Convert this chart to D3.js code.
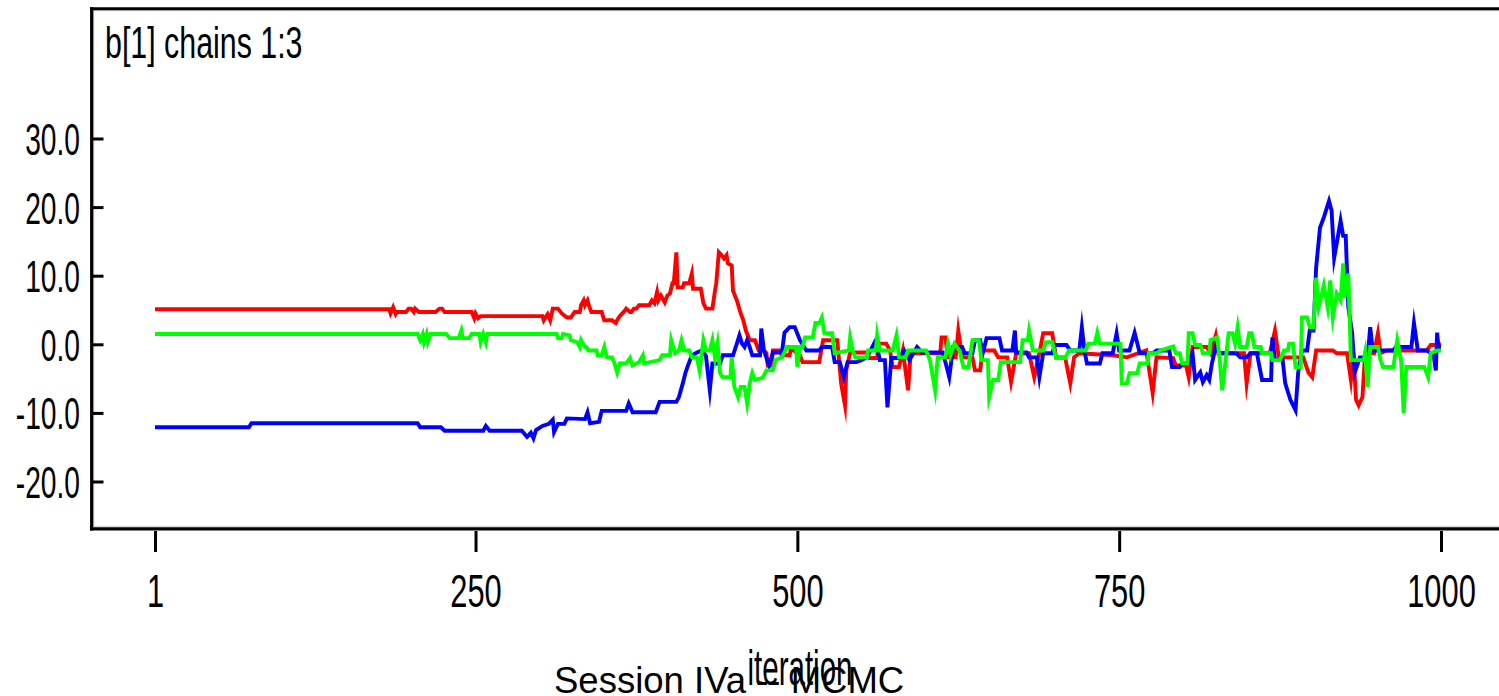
<!DOCTYPE html>
<html><head><meta charset="utf-8">
<script src="https://cdn.jsdelivr.net/npm/d3@7"></script>
<style>
html,body{margin:0;padding:0;background:#fff;}
svg{display:block;}
text{font-family:"Liberation Sans",Arial,sans-serif;fill:#000;}
</style></head>
<body>
<svg id="chart" width="1499" height="696"></svg>
<script>
// ---- data ----
const title = "b[1] chains 1:3";
const xLabel = "iteration";
const caption = "Session IVa -- MCMC";
const xTicks = [1, 250, 500, 750, 1000];
const xTickLabels = ["1", "250", "500", "750", "1000"];
const yTicks = [-20, -10, 0, 10, 20, 30];
const yTickLabels = ["-20.0", "-10.0", "0.0", "10.0", "20.0", "30.0"];
const chainColors = ["#ff0000", "#0000ff", "#00ff00"];

// chain 1 (red): [iteration, value]
const chain1 = [[1,5.1],[183,5.1],[184,4.5],[186,5.4],[188,4.4],[189,4.7],[196,4.7],[198,5.2],[200,5.2],[202,4.7],[203,5.2],[206,4.7],[219,4.7],[222,5.2],[224,5.2],[226,4.7],[247,4.7],[249,3.8],[250,4.5],[252,3.8],[254,4.1],[302,4.1],[303,3.5],[306,4.4],[308,3.5],[310,5.2],[314,5.2],[317,4.5],[321,3.9],[324,3.9],[327,4.7],[331,4.7],[332,5.7],[334,6.4],[335,5.7],[337,6.4],[338,5.7],[340,4.7],[348,4.7],[350,3.5],[356,3.5],[359,3.1],[360,3.5],[362,4.1],[366,4.9],[367,5.2],[370,4.7],[371,4.7],[373,5.2],[375,5.2],[377,5.7],[385,5.7],[387,6.4],[389,6.0],[391,7.6],[392,6.4],[394,7.1],[397,6.1],[399,7.1],[401,7.4],[403,8.9],[404,8.9],[406,13.4],[407,8.3],[411,8.3],[412,8.9],[416,8.9],[418,10.3],[419,8.1],[425,8.1],[427,6.0],[429,5.2],[434,5.2],[436,7.8],[437,8.9],[439,13.4],[441,13.0],[443,12.5],[445,13.0],[446,11.8],[449,11.5],[450,7.8],[453,6.4],[456,4.5],[458,3.5],[460,2.0],[463,0.6],[467,0.6],[470,-0.9],[474,-0.9],[476,-1.3],[477,-3.1],[480,-3.1],[481,-0.9],[486,-0.9],[488,-1.6],[494,-1.6],[495,-0.6],[502,-1.6],[504,-2.6],[517,-2.6],[520,0.6],[531,0.6],[534,-5.7],[537,-8.9],[538,-3.8],[541,-1.2],[554,-1.2],[556,-2.0],[562,-2.0],[563,0.1],[569,0.1],[572,-0.9],[574,-3.3],[579,-3.3],[582,-0.9],[586,-6.7],[588,-1.3],[611,-1.3],[612,1.0],[615,1.0],[617,-1.9],[623,-1.9],[625,2.0],[628,-1.9],[636,-1.9],[638,-3.8],[642,-3.8],[644,-0.9],[653,-0.9],[656,-1.9],[663,-1.9],[666,-5.5],[670,-1.3],[680,-1.3],[684,-4.8],[688,-1.3],[691,1.6],[698,1.6],[701,-1.9],[708,-1.9],[712,-5.7],[715,-1.9],[719,-1.3],[745,-1.6],[756,-1.9],[771,-0.9],[776,-7.1],[779,-1.9],[792,-2.0],[794,-3.1],[802,-3.1],[804,-4.8],[807,-0.4],[818,-0.4],[821,-1.3],[825,1.3],[827,-1.3],[847,-1.3],[849,-5.7],[852,-1.3],[867,-1.3],[871,2.0],[874,-1.9],[893,-1.9],[897,-4.1],[900,-4.8],[903,-0.9],[916,-0.9],[919,-1.3],[927,-1.3],[930,-5.2],[932,-1.3],[934,-8.1],[936,-8.9],[939,-7.7],[941,-1.3],[948,-1.3],[951,1.6],[953,-1.3],[958,-0.9],[989,-0.9],[992,-0.1],[997,-0.1],[1000,0.1]];

// chain 2 (blue)
const chain2 = [[1,-12.1],[74,-12.1],[76,-11.5],[205,-11.5],[207,-12.1],[223,-12.1],[226,-12.6],[256,-12.6],[258,-11.9],[261,-12.6],[286,-12.6],[290,-13.5],[293,-12.9],[295,-13.7],[297,-12.5],[302,-11.9],[307,-11.6],[310,-11.0],[311,-12.8],[314,-11.6],[319,-11.6],[321,-10.8],[335,-10.9],[337,-9.9],[339,-11.5],[346,-11.3],[348,-9.7],[367,-9.7],[369,-8.6],[372,-9.9],[390,-9.9],[393,-8.4],[406,-8.4],[408,-7.7],[411,-5.7],[413,-4.2],[415,-3.1],[418,-1.6],[422,-1.2],[426,-0.9],[429,-1.7],[432,-6.7],[434,-2.8],[440,-2.8],[442,-1.6],[450,-1.6],[453,0.1],[455,1.3],[457,0.1],[459,-0.4],[461,0.6],[463,-0.4],[465,-1.6],[471,-1.6],[472,2.3],[474,-0.9],[478,-3.1],[481,-1.2],[488,-1.2],[490,1.7],[494,2.5],[498,2.5],[502,0.6],[507,-0.9],[517,-0.9],[519,-0.4],[527,-0.4],[529,-2.6],[533,-2.6],[536,-4.8],[539,-2.6],[546,-2.6],[550,-2.3],[554,-1.9],[561,0.6],[564,-2.3],[568,-2.3],[570,-9.2],[573,-2.0],[579,-2.0],[583,-0.9],[587,-2.3],[593,-0.4],[597,-1.2],[613,-1.2],[616,-3.3],[618,-4.8],[621,-0.4],[628,-0.4],[630,-1.3],[636,-1.3],[638,0.6],[642,0.6],[644,-1.3],[647,0.9],[657,0.9],[659,-0.9],[667,-0.9],[669,2.0],[670,-1.2],[678,-1.2],[680,-1.9],[686,-1.9],[688,-4.8],[691,-1.3],[698,-1.3],[700,-0.1],[709,-0.1],[712,-0.9],[719,-0.9],[721,2.5],[723,-0.9],[725,-2.8],[735,-2.8],[737,-1.3],[745,-1.3],[748,1.6],[750,-0.9],[758,-0.9],[762,1.7],[766,-1.3],[776,-1.3],[779,-0.9],[789,-0.9],[791,-3.3],[797,-3.3],[799,-2.8],[804,-2.8],[807,-1.3],[809,-5.2],[813,-4.1],[815,-5.5],[818,-4.5],[820,-5.2],[822,-2.8],[825,-0.4],[828,-1.3],[841,-1.3],[844,-1.9],[849,-1.9],[852,-1.3],[857,-1.3],[859,-3.3],[861,-5.2],[868,-5.2],[869,1.0],[871,-2.3],[877,-2.3],[879,-5.7],[883,-8.1],[887,-9.6],[889,-4.2],[892,-0.9],[896,-0.9],[898,2.0],[901,2.0],[903,11.2],[906,17.0],[909,18.5],[913,20.9],[915,19.5],[917,12.6],[920,15.8],[922,18.0],[924,15.8],[926,15.8],[928,5.4],[931,1.6],[933,-4.1],[937,-1.9],[943,-1.9],[945,2.5],[947,-0.9],[963,-0.9],[965,-0.4],[977,-0.4],[979,3.1],[982,-0.9],[989,-0.9],[992,-1.3],[994,-1.3],[996,-3.8],[997,1.7],[998,-0.4],[1000,-0.4]];

// chain 3 (green)
const chain3 = [[1,1.5],[205,1.5],[207,0.6],[209,1.5],[210,0.3],[212,1.5],[213,0.4],[215,1.5],[227,1.5],[230,0.9],[237,0.9],[239,2.0],[240,0.9],[245,0.9],[247,1.5],[253,1.5],[254,0.3],[256,1.5],[258,0.3],[259,1.5],[313,1.5],[314,0.9],[317,0.9],[318,1.5],[323,1.3],[324,0.6],[329,0.3],[331,-0.4],[332,0.6],[335,-0.4],[336,-0.4],[338,-0.9],[344,-0.9],[345,-1.6],[348,-1.6],[350,-0.4],[352,-1.9],[356,-1.9],[358,-2.8],[360,-4.1],[362,-2.8],[367,-2.8],[370,-2.0],[372,-3.1],[377,-2.6],[380,-1.6],[381,-2.8],[393,-2.3],[395,-1.6],[401,-1.6],[402,0.6],[405,-1.3],[408,-0.9],[410,0.6],[412,-0.9],[416,-0.9],[418,-1.9],[422,-1.9],[424,-3.8],[427,0.6],[429,-0.9],[432,-0.9],[434,0.6],[436,-2.0],[438,0.1],[440,-4.2],[442,-4.8],[448,-4.8],[449,-1.9],[451,-6.2],[454,-7.7],[456,-6.2],[459,-6.2],[461,-8.6],[463,-5.7],[465,-4.2],[467,-5.2],[473,-4.9],[476,-3.8],[481,-3.8],[483,-2.3],[488,-1.9],[492,-0.4],[499,-0.4],[500,-3.3],[502,-0.4],[504,-0.4],[506,1.0],[512,1.0],[514,3.1],[517,3.1],[519,3.9],[521,1.6],[527,1.6],[529,-1.3],[540,-0.9],[541,1.0],[543,-0.9],[545,-1.9],[554,-1.9],[555,-0.9],[561,-0.9],[562,1.3],[564,-0.9],[574,-0.9],[577,1.3],[579,-1.9],[584,-1.9],[586,-0.9],[600,-0.9],[603,-2.3],[607,-6.7],[609,-1.9],[615,-1.9],[617,0.1],[619,-1.6],[622,0.1],[626,-0.9],[629,-3.3],[633,-3.3],[636,0.6],[641,0.6],[643,-2.3],[648,-2.3],[649,-7.7],[652,-5.2],[656,-5.2],[658,-2.6],[673,-2.6],[675,0.6],[679,0.6],[680,2.0],[683,-0.9],[691,-0.9],[693,0.3],[698,0.3],[701,-2.0],[708,-2.0],[711,-0.9],[724,-0.9],[726,0.1],[731,0.1],[733,1.7],[735,0.1],[751,0.1],[752,-5.7],[756,-5.7],[758,-4.2],[764,-4.2],[766,-2.8],[772,-2.8],[773,-1.3],[779,-1.3],[782,-0.9],[792,-0.3],[794,-1.3],[797,-1.3],[799,-2.8],[803,-2.8],[804,1.6],[807,1.6],[809,-0.1],[813,-0.1],[815,-1.3],[820,-1.3],[821,0.6],[826,1.0],[828,-1.9],[830,-6.7],[833,-1.9],[835,1.6],[838,1.6],[840,0.1],[842,2.5],[844,-0.4],[849,-0.4],[851,1.6],[853,1.6],[855,-0.4],[860,-0.4],[861,-1.3],[868,-1.3],[869,-2.3],[875,-2.3],[878,-0.9],[881,-0.9],[882,0.1],[885,0.1],[887,-3.3],[891,-3.3],[892,3.9],[896,3.9],[898,2.5],[901,2.5],[903,9.7],[905,5.4],[909,8.6],[912,5.4],[914,9.3],[916,3.9],[919,7.4],[922,6.4],[924,11.8],[925,6.8],[928,10.3],[930,-2.3],[940,-2.3],[941,-1.3],[943,-6.2],[945,-0.4],[951,-0.4],[953,-2.3],[955,-3.3],[963,-3.3],[966,0.6],[969,-2.3],[971,-10.0],[973,-3.3],[987,-3.3],[990,-4.8],[992,-1.3],[997,-0.9],[1000,-0.9]];

const chains = [chain1, chain2, chain3];

// ---- drawing ----
const svg = d3.select("#chart");
const x = d3.scaleLinear().domain([1, 1000]).range([155, 1441]);
const y = d3.scaleLinear().domain([-20, 30]).range([481.5, 138.5]);

// frame
svg.append("line").attr("x1", 90).attr("x2", 1499).attr("y1", 10.8).attr("y2", 10.8).attr("stroke", "#d0d0d0").attr("stroke-width", 1);
svg.append("line").attr("x1", 93.8).attr("x2", 93.8).attr("y1", 10).attr("y2", 527).attr("stroke", "#d0d0d0").attr("stroke-width", 1);
svg.append("line").attr("x1", 90).attr("x2", 1499).attr("y1", 526.3).attr("y2", 526.3).attr("stroke", "#d0d0d0").attr("stroke-width", 1);
svg.append("line").attr("x1", 90).attr("x2", 1499).attr("y1", 8.7).attr("y2", 8.7).attr("stroke", "#000").attr("stroke-width", 3);
svg.append("line").attr("x1", 91.7).attr("x2", 91.7).attr("y1", 7.2).attr("y2", 530.5).attr("stroke", "#000").attr("stroke-width", 3.2);
svg.append("line").attr("x1", 90).attr("x2", 1499).attr("y1", 528.9).attr("y2", 528.9).attr("stroke", "#000").attr("stroke-width", 3.4);

// y axis
const yAxis = d3.axisLeft(y).tickValues(yTicks)
  .tickFormat((d, i) => yTickLabels[i]).tickSizeInner(-11.5).tickSizeOuter(0).tickPadding(0);
const gy = svg.append("g").attr("transform", "translate(92,0)").call(yAxis);
gy.select(".domain").remove();
gy.selectAll(".tick line").attr("stroke", "#000").attr("stroke-width", 3);
gy.selectAll(".tick text")
  .attr("x", null).attr("dy", null)
  .attr("text-anchor", "end")
  .attr("font-size", 44)
  .attr("transform", "translate(-12,16) scale(0.64,1)");

// x axis
const xAxis = d3.axisBottom(x).tickValues(xTicks)
  .tickFormat((d, i) => xTickLabels[i]).tickSizeInner(21).tickSizeOuter(0).tickPadding(0);
const gx = svg.append("g").attr("transform", "translate(0,531)").call(xAxis);
gx.select(".domain").remove();
gx.selectAll(".tick line").attr("stroke", "#000").attr("stroke-width", 3);
gx.selectAll(".tick text")
  .attr("y", null).attr("dy", null)
  .attr("text-anchor", "middle")
  .attr("font-size", 46)
  .attr("transform", "translate(0,76) scale(0.67,1)");

// chains
const line = d3.line().x(d => x(d[0])).y(d => y(d[1]));
chains.forEach((c, i) => {
  svg.append("path").datum(c)
    .attr("d", line)
    .attr("fill", "none")
    .attr("stroke", chainColors[i])
    .attr("stroke-width", 3.9)
    .attr("stroke-linejoin", "miter")
    .attr("stroke-miterlimit", 10);
});

// texts
svg.append("text").text(title)
  .attr("font-size", 44)
  .attr("transform", "translate(105,58) scale(0.69,1)");
svg.append("text").text(caption)
  .attr("font-size", 36.5)
  .attr("x", 554).attr("y", 693);
svg.append("text").text(xLabel)
  .attr("font-size", 50)
  .attr("text-anchor", "middle")
  .attr("transform", "translate(800,685) scale(0.59,1)");
</script>
</body></html>
